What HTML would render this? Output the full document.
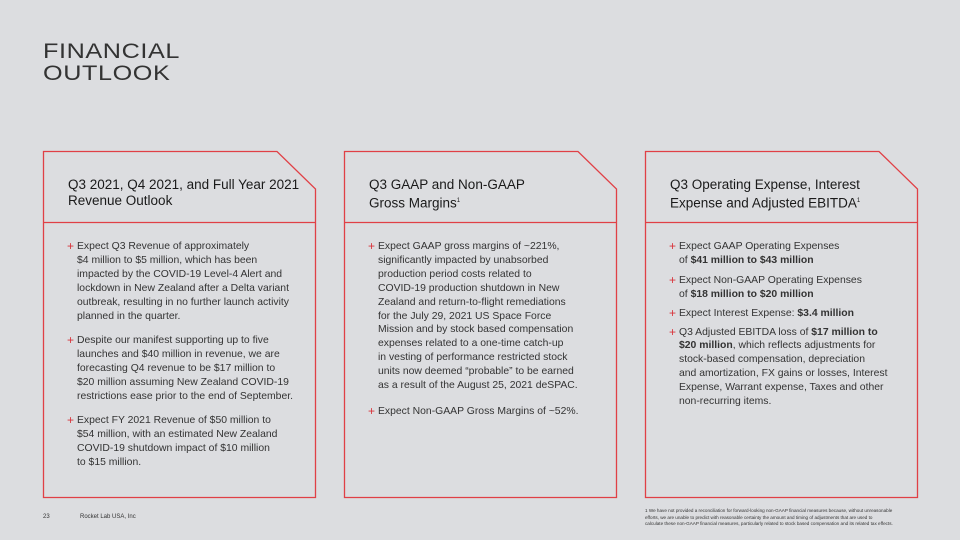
<!DOCTYPE html><html><head><style>
body{margin:0;width:960px;height:540px;background:#dcdde0;font-family:"Liberation Sans",sans-serif;color:#222;position:relative;overflow:hidden}
.t{position:absolute;left:43px;top:41px;font-size:21px;line-height:22px;letter-spacing:0.5px;transform:scaleX(1.2);transform-origin:left top;color:#333}
svg{position:absolute;left:0;top:0}
.h{position:absolute;font-size:13.5px;line-height:16px;color:#1a1a1a;white-space:nowrap}
.b{position:absolute;font-size:10.4px;line-height:13.9px;color:#333;white-space:nowrap}
.b p{margin:0 0 8px 10px;position:relative}
.b p:before{content:"+";color:#d8333a;position:absolute;left:-10px;font-size:12px}
.f{position:absolute;font-size:4.6px;line-height:6.5px;color:#333;white-space:nowrap}
</style></head><body>
<div class="t">FINANCIAL<br>OUTLOOK</div>
<svg width="960" height="540"><g fill="none" stroke="#e04046" stroke-width="1.3">
<path d="M43.5 151.5H277L315.5 189V497.5H43.5Z M43.5 222.5H315.5"/>
<path d="M344.5 151.5H578L616.5 189V497.5H344.5Z M344.5 222.5H616.5"/>
<path d="M645.5 151.5H879L917.5 189V497.5H645.5Z M645.5 222.5H917.5"/></g></svg>
<div class="h" style="left:68px;top:177px">Q3 2021, Q4 2021, and Full Year 2021<br>Revenue Outlook</div>
<div class="h" style="left:369px;top:177px">Q3 GAAP and Non-GAAP<br>Gross Margins<sup style="font-size:6px">1</sup></div>
<div class="h" style="left:670px;top:177px">Q3 Operating Expense, Interest<br>Expense and Adjusted EBITDA<sup style="font-size:6px">1</sup></div>
<div class="b" style="left:67px;top:240px">
<p>Expect Q3 Revenue of approximately<br>$4 million to $5 million, which has been<br>impacted by the COVID-19 Level-4 Alert and<br>lockdown in New Zealand after a Delta variant<br>outbreak, resulting in no further launch activity<br>planned in the quarter.</p>
<p style="margin-top:11px">Despite our manifest supporting up to five<br>launches and $40 million in revenue, we are<br>forecasting Q4 revenue to be $17 million to<br>$20 million assuming New Zealand COVID-19<br>restrictions ease prior to the end of September.</p>
<p style="margin-top:10px">Expect FY 2021 Revenue of $50 million to<br>$54 million, with an estimated New Zealand<br>COVID-19 shutdown impact of $10 million<br>to $15 million.</p></div>
<div class="b" style="left:368px;top:240px">
<p>Expect GAAP gross margins of ~221%,<br>significantly impacted by unabsorbed<br>production period costs related to<br>COVID-19 production shutdown in New<br>Zealand and return-to-flight remediations<br>for the July 29, 2021 US Space Force<br>Mission and by stock based compensation<br>expenses related to a one-time catch-up<br>in vesting of performance restricted stock<br>units now deemed “probable” to be earned<br>as a result of the August 25, 2021 deSPAC.</p>
<p style="margin-top:12px">Expect Non-GAAP Gross Margins of ~52%.</p></div>
<div class="b" style="left:669px;top:240px">
<p style="margin-bottom:6px">Expect GAAP Operating Expenses<br>of <b>$41 million to $43 million</b></p>
<p style="margin-bottom:5px">Expect Non-GAAP Operating Expenses<br>of <b>$18 million to $20 million</b></p>
<p style="margin-bottom:5px">Expect Interest Expense: <b>$3.4 million</b></p>
<p>Q3 Adjusted EBITDA loss of <b>$17 million to<br>$20 million</b>, which reflects adjustments for<br>stock-based compensation, depreciation<br>and amortization, FX gains or losses, Interest<br>Expense, Warrant expense, Taxes and other<br>non-recurring items.</p></div>
<div class="f" style="left:43px;top:514px;font-size:6px">23</div>
<div class="f" style="left:80px;top:514px;font-size:6px">Rocket Lab USA, Inc</div>
<div class="f" style="left:645px;top:508px">1 We have not provided a reconciliation for forward-looking non-GAAP financial measures because, without unreasonable<br>efforts, we are unable to predict with reasonable certainty the amount and timing of adjustments that are used to<br>calculate these non-GAAP financial measures, particularly related to stock based compensation and its related tax effects.</div>
</body></html>
